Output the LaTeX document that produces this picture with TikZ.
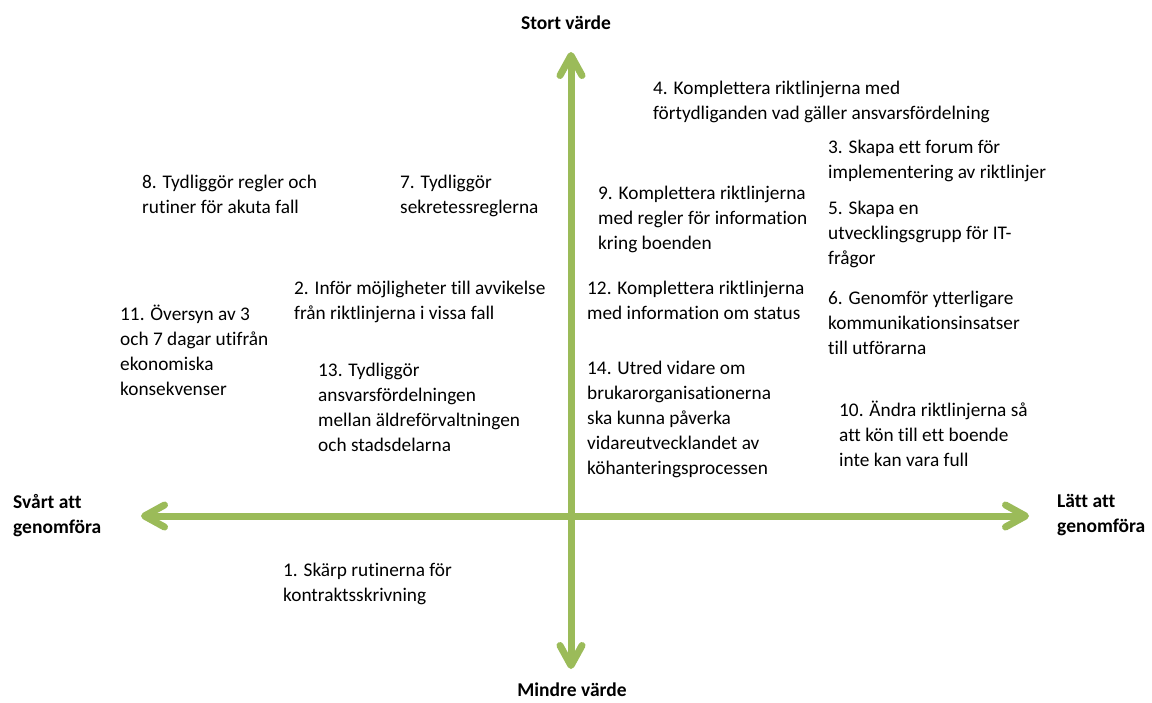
\documentclass[tikz,border=0pt]{standalone}
\usepackage{fontspec}
\setmainfont{Carlito}[RawFeature={-liga;-clig;-dlig}]
\usetikzlibrary{arrows.meta}
\definecolor{axisgreen}{RGB}{155,187,89}
\begin{document}
\begin{tikzpicture}[x=1pt,y=-1pt,
  txt/.style={anchor=north west, inner sep=0pt, align=left,
    font=\fontsize{19.3}{25}\selectfont, execute at begin node=\strut},
  hdr/.style={inner sep=0pt, font=\fontsize{19.5}{25}\selectfont\bfseries},
  hdrl/.style={anchor=north west, inner sep=0pt, align=left,
    font=\fontsize{19.5}{25}\selectfont\bfseries, execute at begin node=\strut},
  axisarrow/.style={line width=7pt, draw=axisgreen,
    {Straight Barb[round,length=20pt,width=22pt]}-{Straight Barb[round,length=20pt,width=22pt]}}]
\useasboundingbox (0,0) rectangle (1152,702);
\fill[white] (0,0) rectangle (1152,702);
% axes
\coordinate (top) at (571,52);
\coordinate (bottom) at (571,669);
\coordinate (left) at (141,516);
\coordinate (right) at (1029,516);
\draw[axisarrow] (bottom) -- (top);
\draw[axisarrow] (left) -- (right);
% axis labels
\node[hdr] (stort) at (566,23) {Stort värde};
\node[hdr] (mindre) at (572,690) {Mindre värde};
\node[hdrl] (svart) at (13,494.5) {Svårt att\\genomföra};
\node[hdrl] (latt) at (1057,494.5) {Lätt att\\genomföra};
% items
\node[txt] (n4) at (653,80.5) {4. Komplettera riktlinjerna med\\förtydliganden vad gäller ansvarsfördelning};
\node[txt] (n3) at (828,139.5) {3. Skapa ett forum för\\implementering av riktlinjer};
\node[txt] (n9) at (598,185.5) {9. Komplettera riktlinjerna\\med regler för information\\kring boenden};
\node[txt] (n5) at (828,200.5) {5. Skapa en\\utvecklingsgrupp för IT-\\frågor};
\node[txt] (n12) at (587,280.5) {12. Komplettera riktlinjerna\\med information om status};
\node[txt] (n6) at (828,290.5) {6. Genomför ytterligare\\kommunikationsinsatser\\till utförarna};
\node[txt] (n14) at (587,360.5) {14. Utred vidare om\\brukarorganisationerna\\ska kunna påverka\\vidareutvecklandet av\\köhanteringsprocessen};
\node[txt] (n10) at (839,400.5) {10. Ändra riktlinjerna så\\att kön till ett boende\\inte kan vara full};
\node[txt] (n8) at (142,174.5) {8. Tydliggör regler och\\rutiner för akuta fall};
\node[txt] (n7) at (400,174.5) {7. Tydliggör\\sekretessreglerna};
\node[txt] (n2) at (294,280.5) {2. Inför möjligheter till avvikelse\\från riktlinjerna i vissa fall};
\node[txt] (n11) at (120,304.5) {11. Översyn av 3\\och 7 dagar utifrån\\ekonomiska\\konsekvenser};
\node[txt] (n13) at (318,362.5) {13. Tydliggör\\ansvarsfördelningen\\mellan äldreförvaltningen\\och stadsdelarna};
\node[txt] (n1) at (283,562.5) {1. Skärp rutinerna för\\kontraktsskrivning};
\end{tikzpicture}
\end{document}
